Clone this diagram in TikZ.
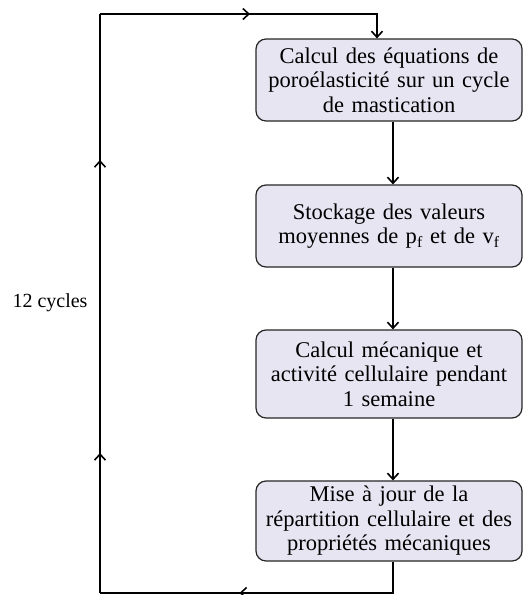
\documentclass[tikz,border=0pt]{standalone}
\usepackage{fontspec}
\setmainfont{Liberation Serif}
\usetikzlibrary{arrows.meta,decorations.markings}
\definecolor{boxfill}{RGB}{231,229,242}
\begin{document}
\begin{tikzpicture}[x=1pt,y=-1pt,
  box/.style={draw=black!85,line width=1.2pt,fill=boxfill,rounded corners=10pt,
    minimum width=266pt,text width=264pt,minimum height=82pt,align=center,
    font=\fontsize{22.5}{24.5}\selectfont,inner sep=0pt},
  tip/.style={-{Straight Barb[length=6pt,width=11pt,line width=1.6pt]}},
  link/.style={line width=1.6pt,black},
  midarrows/.style={postaction={decorate,decoration={markings,#1}}},
  lbl/.style={font=\fontsize{20}{24}\selectfont}
]
\useasboundingbox (0,0) rectangle (524,595);
\node[box] (b1) at (389,80) {Calcul des équations de\\ poroélasticité sur un cycle\\ de mastication};
\node[box] (b2) at (389,226) {Stockage des valeurs\\ moyennes de p\textsubscript{f} et de v\textsubscript{f}};
\node[box,minimum height=88pt] (b3) at (389,374) {Calcul mécanique et\\ activité cellulaire pendant\\ 1 semaine};
\node[box,minimum height=80pt] (b4) at (389,521) {Mise à jour de la\\ répartition cellulaire et des\\ propriétés mécaniques};
\node[lbl] (cyc) at (50,303) {12 cycles};
\coordinate (bl) at (100,593);
\coordinate (tl) at (100,14);
\draw[link,tip] ([xshift=4pt]b1.south) -- ([xshift=4pt]b2.north);
\draw[link,tip] ([xshift=4pt]b2.south) -- ([xshift=4pt]b3.north);
\draw[link,tip] ([xshift=4pt]b3.south) -- ([xshift=4pt]b4.north);
\draw[link,midarrows={mark=at position 185pt with {\arrow{Straight Barb[length=6pt,width=11pt,line width=1.6pt]}}}]
  ([xshift=4pt]b4.south) |- (bl);
\draw[link,midarrows={mark=at position 140pt with {\arrow{Straight Barb[length=6pt,width=11pt,line width=1.6pt]}},
  mark=at position 433pt with {\arrow{Straight Barb[length=6pt,width=11pt,line width=1.6pt]}}}]
  (bl) -- (tl);
\draw[link,tip,midarrows={mark=at position 150pt with {\arrow{Straight Barb[length=6pt,width=11pt,line width=1.6pt]}}}]
  (tl) -| ([xshift=-12pt]b1.north);
\end{tikzpicture}
\end{document}
